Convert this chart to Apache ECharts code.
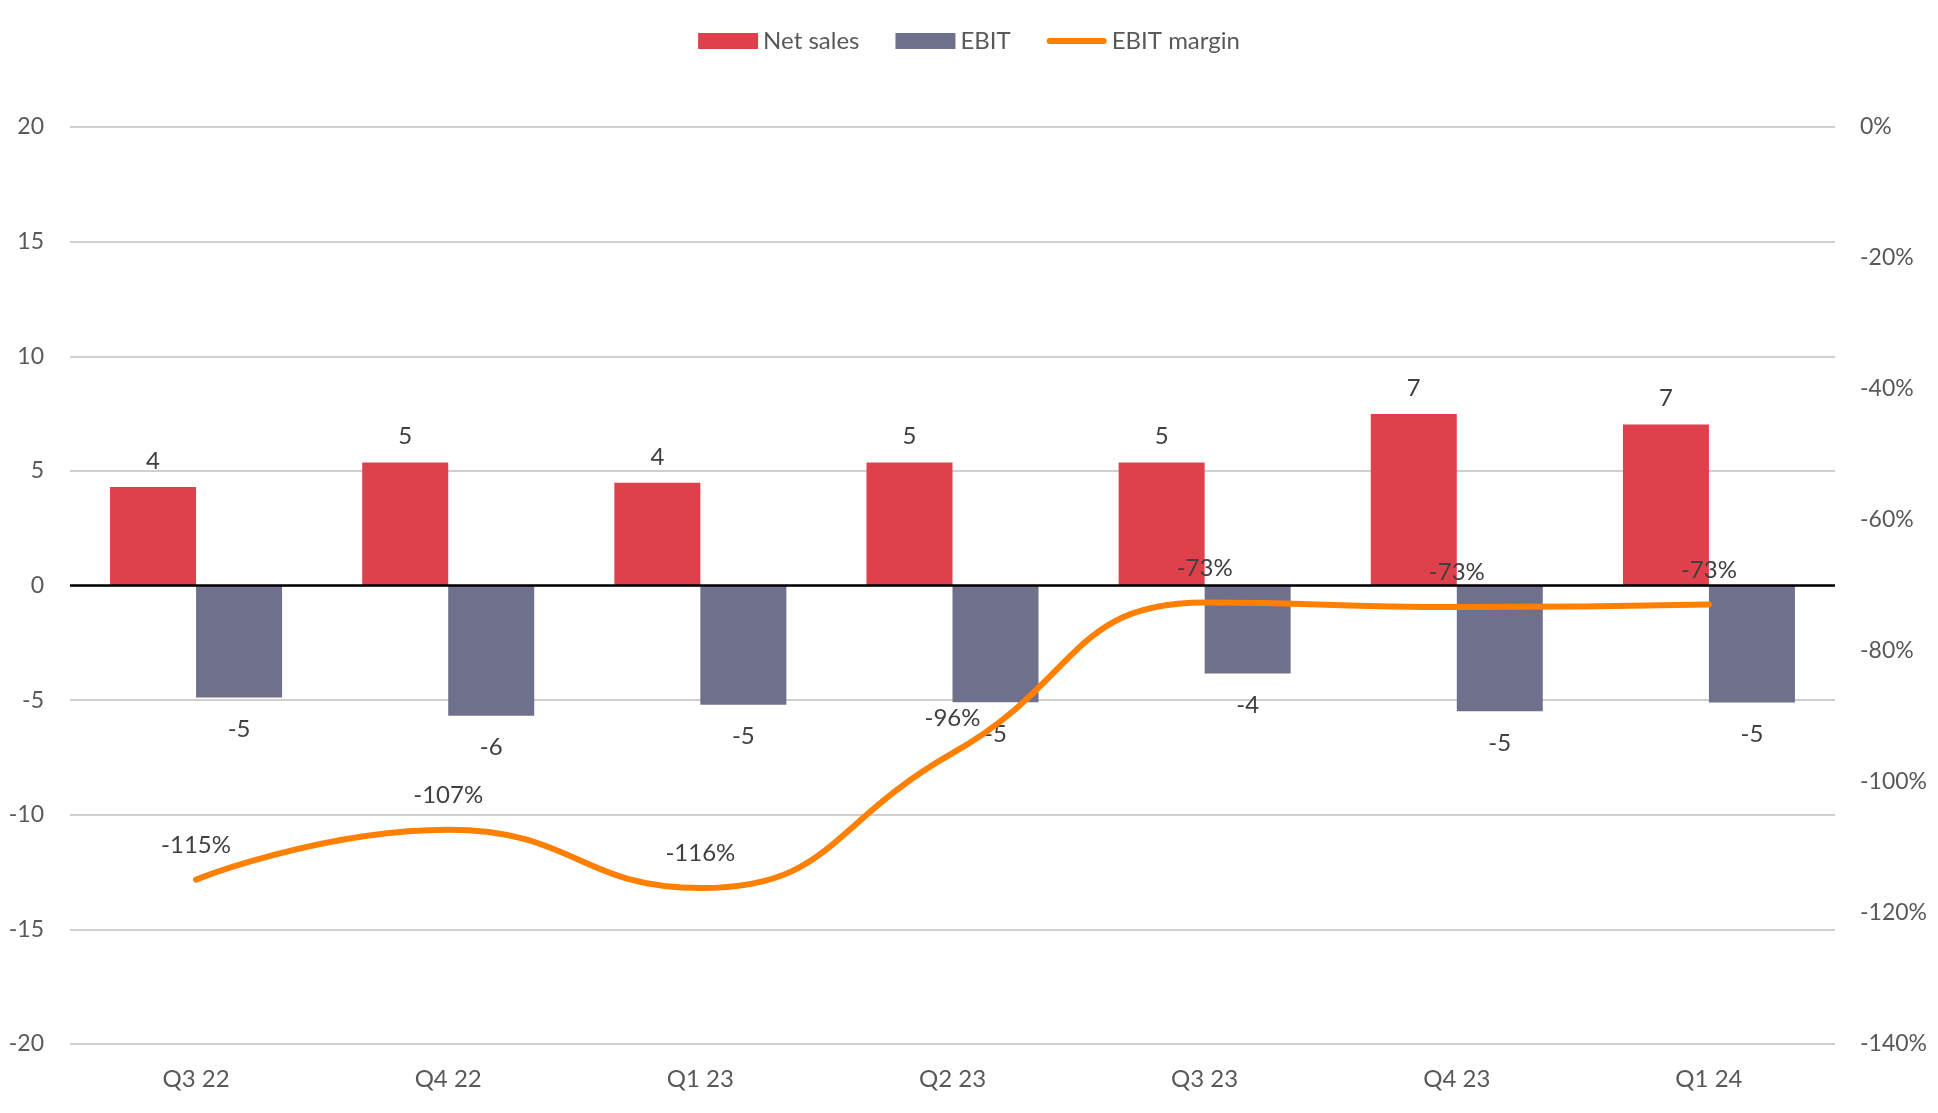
<!DOCTYPE html>
<html>
<head>
<meta charset="utf-8">
<script src="https://cdn.jsdelivr.net/npm/echarts@6/dist/echarts.min.js"></script>
<style>
html,body{margin:0;padding:0;background:#fff;}
#chart{width:1938px;height:1113px;}
</style>
</head>
<body>
<div id="chart"></div>
<script>
const categories = ['Q3 22','Q4 22','Q1 23','Q2 23','Q3 23','Q4 23','Q1 24'];
const netSales = [4.30, 5.36, 4.48, 5.36, 5.36, 7.48, 7.02];
const ebit = [-4.89, -5.68, -5.20, -5.09, -3.84, -5.49, -5.10];
const ebitMargin = [-114.9, -107.3, -116.2, -95.6, -72.6, -73.3, -72.9];

const FONT = 'Lato';
const chart = echarts.init(document.getElementById('chart'));
chart.setOption({
  animation: false,
  textStyle: { fontFamily: FONT },
  legend: {
    top: 24,
    left: 'center',
    itemWidth: 60,
    itemHeight: 16,
    itemGap: 36,
    textStyle: { fontFamily: FONT, fontSize: 24, color: '#595959' },
    data: [
      { name: 'Net sales', icon: 'rect' },
      { name: 'EBIT', icon: 'rect' },
      { name: 'EBIT margin',
        icon: 'path://M0,0 M60,16 M3,5 L57,5 A3,3 0 0 1 57,11 L3,11 A3,3 0 0 1 3,5 Z',
        itemStyle: { color: '#FF8000' } }
    ]
  },
  grid: { left: 70, right: 103, top: 127, bottom: 69, containLabel: false },
  xAxis: {
    type: 'category',
    data: categories,
    axisLine: { show: false, onZero: false },
    axisTick: { show: false },
    axisLabel: { fontFamily: FONT, fontSize: 24, color: '#595959', margin: 23 }
  },
  yAxis: [
    {
      type: 'value', min: -20, max: 20, interval: 5,
      axisLine: { show: false }, axisTick: { show: false },
      axisLabel: { fontFamily: FONT, fontSize: 23, color: '#595959', margin: 26 },
      splitLine: { lineStyle: { color: '#bfbfbf', width: 1.5 } }
    },
    {
      type: 'value', min: -140, max: 0, interval: 20,
      axisLine: { show: false }, axisTick: { show: false },
      axisLabel: { fontFamily: FONT, fontSize: 23, color: '#595959', margin: 25,
        formatter: v => v + '%' },
      splitLine: { show: false }
    }
  ],
  series: [
    {
      name: 'Net sales', type: 'bar', data: netSales,
      barWidth: 86, barGap: '0%',
      itemStyle: { color: '#DE414B' },
      label: { show: true, position: 'top', distance: 14, fontFamily: FONT, fontSize: 24, color: '#404040',
        formatter: p => Math.round(p.value) },
      markLine: {
        silent: true, symbol: 'none', z: 10,
        label: { show: false },
        lineStyle: { color: '#000', width: 2.5, type: 'solid' },
        data: [{ yAxis: 0 }]
      }
    },
    {
      name: 'EBIT', type: 'bar', data: ebit,
      barWidth: 86, barGap: '0%',
      itemStyle: { color: '#6E708C' },
      label: { show: true, position: 'bottom', distance: 20, fontFamily: FONT, fontSize: 24, color: '#404040',
        formatter: p => Math.round(p.value) }
    },
    {
      name: 'EBIT margin', type: 'line', yAxisIndex: 1, data: ebitMargin,
      smooth: 0.5, symbol: 'circle', symbolSize: 1, showSymbol: true, z: 5,
      lineStyle: { color: '#FF8000', width: 6, cap: 'round' },
      itemStyle: { color: '#FF8000' },
      labelLayout: { hideOverlap: false },
      label: { show: true, position: 'top', distance: 22, fontFamily: FONT, fontSize: 24, color: '#404040',
        formatter: p => Math.round(p.value) + '%' }
    }
  ]
});
</script>
</body>
</html>
